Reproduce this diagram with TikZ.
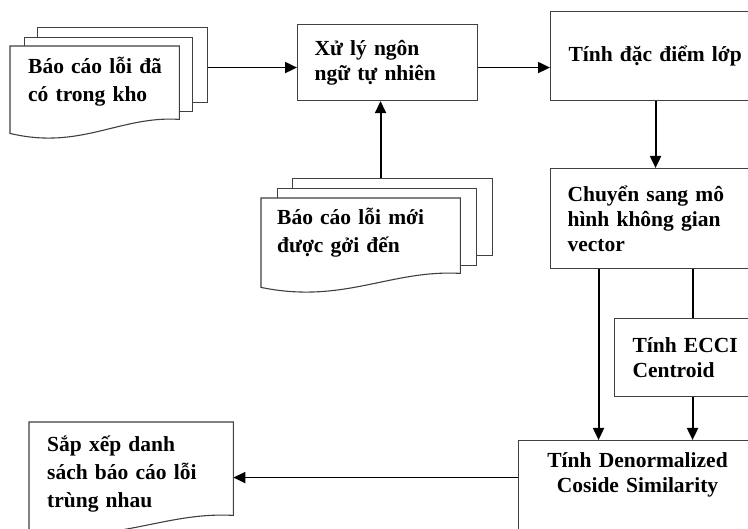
\documentclass[tikz,border=0pt]{standalone}
\usepackage{fontspec}
\setmainfont{Liberation Serif}
\usetikzlibrary{arrows.meta,calc}
\begin{document}
\begin{tikzpicture}[x=1pt,y=-1pt,
  boxline/.style={draw=black!75, line width=1.1pt, fill=white},
  procbox/.style={boxline, anchor=north west, inner ysep=0pt, align=left, font=\fontsize{21.5}{25}\selectfont\bfseries},
  sheet/.style={boxline, anchor=north west, inner sep=0pt},
  docframe/.style={anchor=north west, inner sep=0pt},
  doctext/.style={anchor=base west, align=left, text width=#1, inner sep=0pt, font=\fontsize{21.5}{28}\selectfont\bfseries},
  flow/.style={line width=1.9pt, -{Triangle[length=12pt,width=11pt]}},
  plainline/.style={line width=1.9pt}
]
\useasboundingbox (0,0) rectangle (748,529);
\clip (0,0) rectangle (748,529);
\fill[white] (0,0) rectangle (748,529);

% ---- document stack 1
\node[sheet, minimum width=170pt, minimum height=75pt] (d1b) at (37,27) {};
\node[sheet, minimum width=168pt, minimum height=74pt] (d1m) at (24,37) {};
\node[docframe, minimum width=169pt, minimum height=73pt] (d1) at (10,46) {};
\draw[boxline] (d1.north west) -- (d1.north east) -- (d1.south east)
  .. controls ($(d1.south east)+(-59,-4)$) and ($(d1.south east)+(-99,31)$) .. ($(d1.south west)+(0,14)$) -- cycle;
\node[doctext=160pt] (d1t) at ($(d1.north west)+(18,28)$) {Báo cáo lỗi đã\\có trong kho};

% ---- document stack 2
\node[sheet, minimum width=200pt, minimum height=77pt] (d2b) at (292,178) {};
\node[sheet, minimum width=199pt, minimum height=77pt] (d2m) at (277,188) {};
\node[docframe, minimum width=199pt, minimum height=75pt] (d2) at (261,198) {};
\draw[boxline] (d2.north west) -- (d2.north east) -- (d2.south east)
  .. controls ($(d2.south east)+(-70,-4)$) and ($(d2.south east)+(-117,31)$) .. ($(d2.south west)+(0,14)$) -- cycle;
\node[doctext=180pt] (d2t) at ($(d2.north west)+(16,27)$) {Báo cáo lỗi mới\\được gởi đến};

% ---- output document
\node[docframe, minimum width=204pt, minimum height=93pt] (d3) at (29,422) {};
\draw[boxline] (d3.north west) -- (d3.north east) -- (d3.south east)
  .. controls ($(d3.south east)+(-71,-4)$) and ($(d3.south east)+(-120,31)$) .. ($(d3.south west)+(0,14)$) -- cycle;
\node[doctext=185pt] (d3t) at ($(d3.north west)+(18,30)$) {Sắp xếp danh\\sách báo cáo lỗi\\trùng nhau};

% ---- process boxes
\node[procbox, inner xsep=17pt, text width=146pt, minimum height=76pt] (xuly) at (297,24) {Xử lý ngôn\\ngữ tự nhiên};
\node[procbox, inner xsep=18pt, text width=194pt, minimum height=89pt] (tinh) at (550,11) {Tính đặc điểm lớp};
\node[procbox, inner xsep=17pt, text width=196pt, minimum height=100pt] (chuyen) at (550,168) {Chuyển sang mô\\hình không gian\\vector};
\node[procbox, inner xsep=18pt, text width=130pt, minimum height=78pt] (ecci) at (614,318) {Tính ECCI\\Centroid};
\node[sheet, minimum width=238pt, minimum height=130pt] (den) at (518,440) {};
\node[anchor=base, align=center, text width=220pt, inner sep=0pt, font=\fontsize{21.5}{25}\selectfont\bfseries] (dent) at ($(den.north)+(0,28)$) {Tính Denormalized\\Coside Similarity};

% ---- connectors
\draw[flow] ([yshift=-2.5pt]d1b.east) -- ([yshift=-2.5pt]d1b.east -| xuly.west);
\draw[flow] ([yshift=-5pt]xuly.east) -- ([yshift=-5pt]xuly.east -| tinh.west);
\draw[flow] ([xshift=-12pt]d2b.north) -- ([xshift=-12pt]d2b.north |- xuly.south);
\draw[flow] ([xshift=-10pt]tinh.south) -- ([xshift=-10pt]tinh.south |- chuyen.north);
\draw[flow] ([xshift=-67pt]chuyen.south) -- ([xshift=-67pt]chuyen.south |- den.north);
\draw[plainline] ([xshift=27pt]chuyen.south) -- ([xshift=27pt]chuyen.south |- ecci.north);
\draw[flow] ([xshift=-5pt]ecci.south) -- ([xshift=-5pt]ecci.south |- den.north);
\draw[flow] ([yshift=28pt]den.west) -- ([yshift=28pt]den.west -| d3.east);
\end{tikzpicture}
\end{document}
